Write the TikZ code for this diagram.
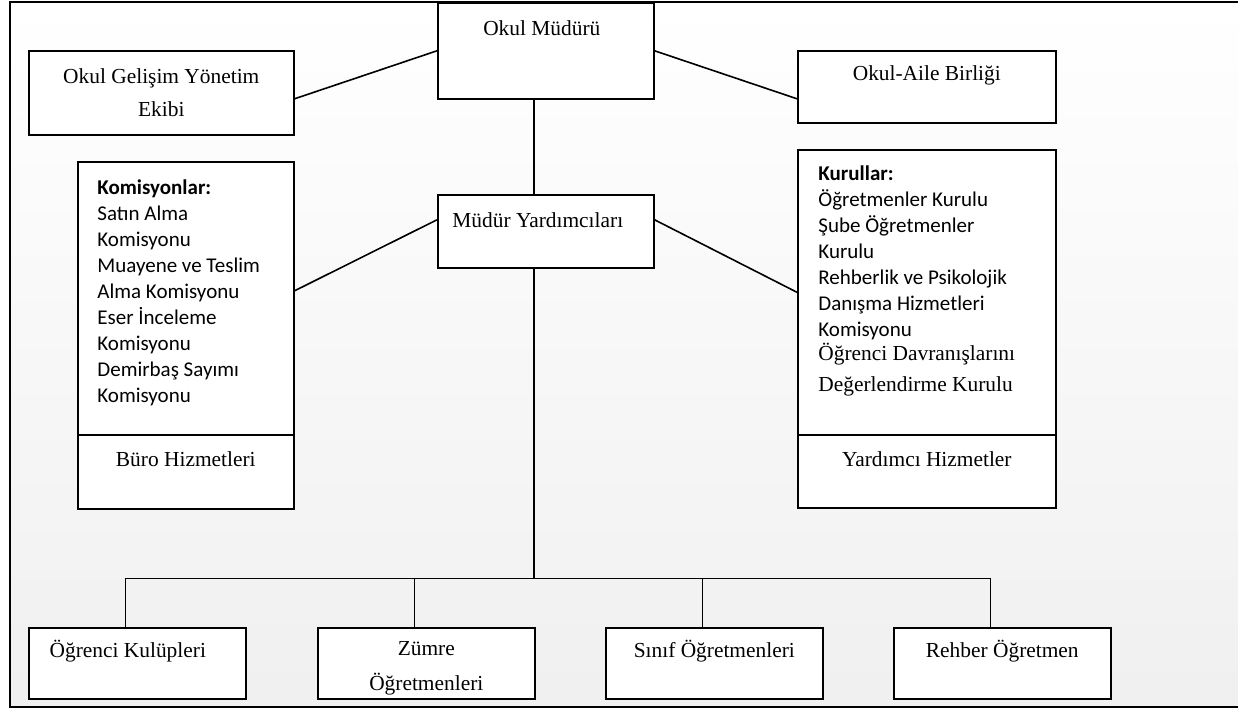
\documentclass[tikz,border=0pt]{standalone}
\usepackage{fontspec}
\setmainfont{Liberation Serif}
\newfontfamily\calibri{Carlito}
\usetikzlibrary{positioning,calc}
\tikzset{
    box/.style={rectangle, draw, fill=white, line width=0.8pt, inner sep=0pt, anchor=north west},
    link/.style={draw, line width=0.8pt},
    serif/.style={font=\fontsize{10.7}{16.5}\selectfont, align=center, inner sep=0pt},
    list/.style={font=\calibri\fontsize{10.5}{13}\selectfont, align=left, inner sep=0pt, anchor=north west}
}

\begin{document}
\begin{tikzpicture}[x=0.5pt, y=-0.5pt]
        \useasboundingbox (0,0) rectangle (1238,710);
        \clip (0,0) rectangle (1238,710);
        % frame with light gradient
        \shade[top color=white, bottom color=black!6] (10,2) rectangle (1250,707);
        \draw[line width=1.2pt] (10,2) rectangle (1250,707);

        % top level
        \node[box, minimum width=108pt, minimum height=48pt] (mudur) at (437,2) {};
        \node[box, serif, minimum width=132.5pt, minimum height=42pt] (ogye) at (28,50) {Okul Gelişim Yönetim\\Ekibi};
        \node[box, minimum width=129pt, minimum height=36pt] (aile) at (797,50) {};
        \node[box, minimum width=108pt, minimum height=36.5pt] (yard) at (437,194) {};

        % side boxes
        \node[box, minimum width=108pt, minimum height=136.5pt] (komis) at (77,161) {};
        \node[box, minimum width=108pt, minimum height=37pt] (buro) at (77,434) {};
        \node[box, minimum width=129pt, minimum height=142.5pt] (kurul) at (797,149) {};
        \node[box, minimum width=129pt, minimum height=36.5pt] (yhizmet) at (797,434) {};

        % bottom row
        \node[box, minimum width=108.5pt, minimum height=35.5pt] (ogrenci) at (28,627) {};
        \node[box, minimum width=108.5pt, minimum height=35.5pt] (zumre) at (317,627) {};
        \node[box, minimum width=108.5pt, minimum height=35.5pt] (sinif) at (605,627) {};
        \node[box, minimum width=108.5pt, minimum height=35.5pt] (rehber) at (893,627) {};

        % texts
        \node[serif] (mudur-t) at ([xshift=-2pt, yshift=-13pt]mudur.north) {Okul Müdürü};
        \node[serif] (aile-t) at ([yshift=5.5pt]aile.center) {Okul-Aile Birliği};
        \node[serif] (yard-t) at ([xshift=-4pt, yshift=5.75pt]yard.center) {Müdür Yardımcıları};
        \node[serif] (buro-t) at ([yshift=6.5pt]buro.center) {Büro Hizmetleri};
        \node[serif] (yhizmet-t) at ([yshift=6.25pt]yhizmet.center) {Yardımcı Hizmetler};
        \node[serif] (ogrenci-t) at ([xshift=-4.75pt, yshift=6.25pt]ogrenci.center) {Öğrenci Kulüpleri};
        \node[serif, font=\fontsize{10.7}{17.5}\selectfont] (zumre-t) at ([yshift=-2.5pt]zumre.center) {Zümre\\Öğretmenleri};
        \node[serif] (sinif-t) at ([yshift=6.25pt]sinif.center) {Sınıf Öğretmenleri};
        \node[serif] (rehber-t) at ([yshift=6.25pt]rehber.center) {Rehber Öğretmen};

        \node[list] (komis-t) at (97,179) {\textbf{Komisyonlar:}\\Satın Alma\\Komisyonu\\Muayene ve Teslim\\Alma Komisyonu\\Eser İnceleme\\Komisyonu\\Demirbaş Sayımı\\Komisyonu};
        \node[list] (kurul-t) at (818,165) {\textbf{Kurullar:}\\Öğretmenler Kurulu\\Şube Öğretmenler\\Kurulu\\Rehberlik ve Psikolojik\\Danışma Hizmetleri\\Komisyonu};
        \node[serif, font=\fontsize{10.7}{15.5}\selectfont, align=left, anchor=north west] (kurul-t2) at (818,343) {Öğrenci Davranışlarını\\Değerlendirme Kurulu};

        % connectors
        \draw[link] ([yshift=-3pt]ogye.east) -- (mudur.west);
        \draw[link] (mudur.east) -- ([yshift=-6pt]aile.west);
        \draw[link] ([yshift=3.75pt]komis.east) -- ([yshift=5.75pt]yard.west);
        \draw[link] ([yshift=5.75pt]yard.east) -- (kurul.west);
        \draw[link] ([xshift=-6pt]mudur.south) -- ([xshift=-6pt]yard.north);

        \path ([xshift=-6pt]yard.south) ++(0,310) coordinate (bus);
        \draw[link] ([xshift=-6pt]yard.south) -- (bus);
        \draw[link] ([xshift=-6pt]ogrenci.north) |- (bus) -| ([xshift=-6pt]rehber.north);
        \foreach \b in {zumre,sinif}
            \draw[link] ([xshift=-6pt]\b.north) -- ([xshift=-6pt]\b.north |- bus);
    \end{tikzpicture}
\end{document}
